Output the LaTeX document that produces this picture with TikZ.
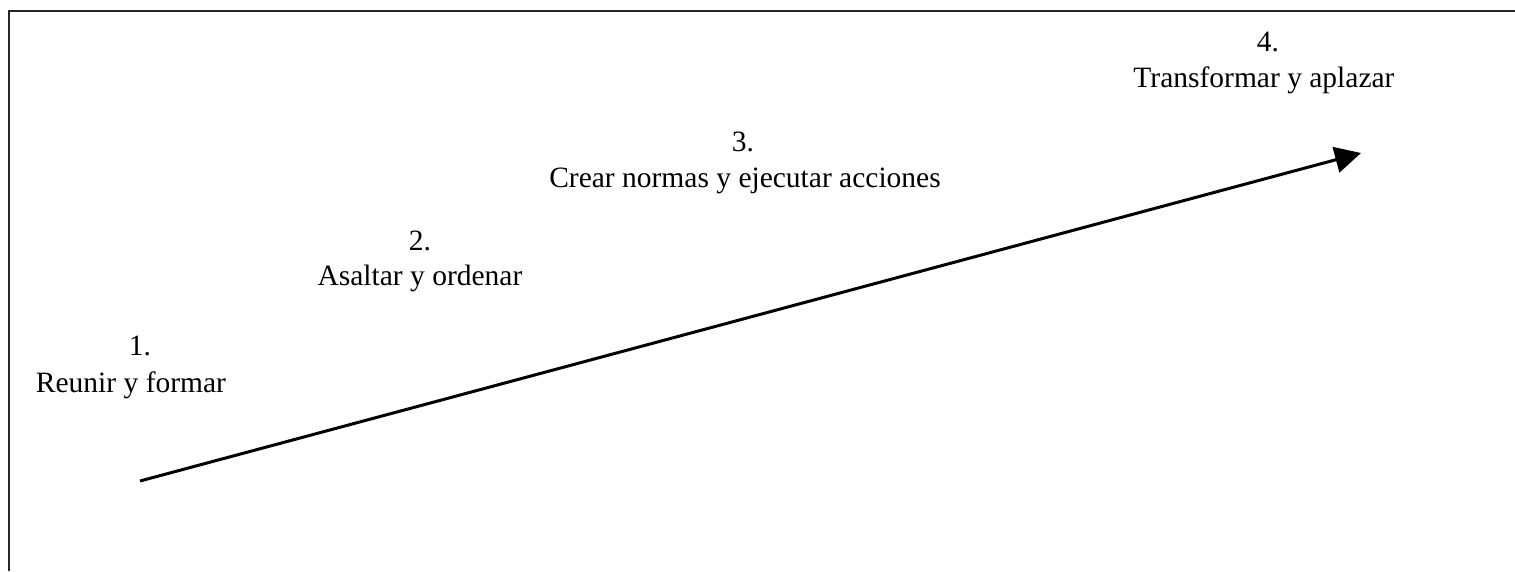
\documentclass[tikz,border=0pt]{standalone}
\usepackage{fontspec}
\setmainfont{Liberation Serif}
\usetikzlibrary{arrows.meta}
\tikzset{
  stagenum/.style={anchor=base, inner sep=0pt, font=\fontsize{29.5}{33}\selectfont},
  stagetext/.style={anchor=base, inner sep=0pt, font=\fontsize{29.5}{33}\selectfont},
  frameline/.style={line width=2.4pt, black!85},
  trend/.style={line width=3pt, -{Triangle[length=26pt,width=26pt]}}
}
\begin{document}
\begin{tikzpicture}[x=1pt,y=-1pt]
  \useasboundingbox (0,0) rectangle (1515,571);
  % open frame: top and left edges only
  \draw[frameline] (9,571) -- (9,11) -- (1515,11);

  % stages along the rising arrow
  \node[stagenum]  (n1) at (140,355) {1.};
  \node[stagetext] (t1) at (131,392) {Reunir y formar};
  \node[stagenum]  (n2) at (420,250) {2.};
  \node[stagetext] (t2) at (420,285) {Asaltar y ordenar};
  \node[stagenum]  (n3) at (743,151) {3.};
  \node[stagetext] (t3) at (745,187) {Crear normas y ejecutar acciones};
  \node[stagenum]  (n4) at (1268,51) {4.};
  \node[stagetext] (t4) at (1264,87) {Transformar y aplazar};

  \coordinate (start) at (140,481);
  \coordinate (finish) at (1361,153);
  \draw[trend] (start) -- (finish);
\end{tikzpicture}
\end{document}
